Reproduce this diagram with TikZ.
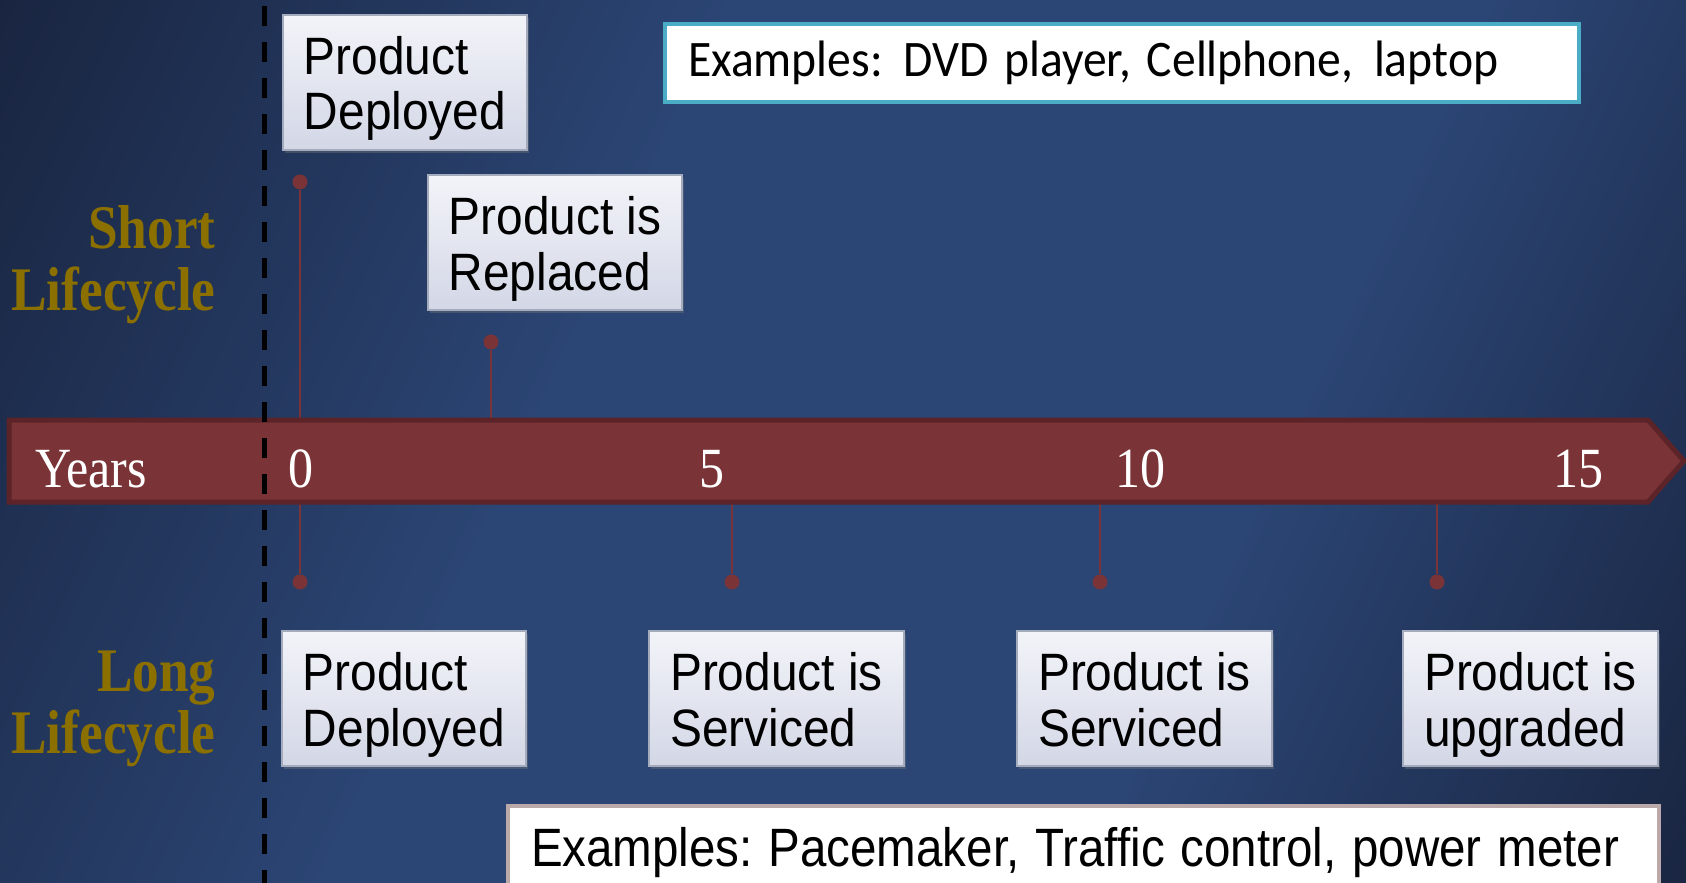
\documentclass[tikz,border=0pt]{standalone}
\usepackage{fontspec}
\usepackage{graphicx}
\setmainfont{Liberation Serif}
\newfontfamily\boxfont{Liberation Sans}
\newfontfamily\calfont{Carlito}
\newfontfamily\serfont[FakeStretch=0.88]{Liberation Serif}
\newfontfamily\lifefont[FakeStretch=0.86]{Liberation Serif}
\usetikzlibrary{positioning,shadows}

\definecolor{bgdark}{HTML}{17213A}
\definecolor{bgmid}{HTML}{2B4574}
\definecolor{bandred}{HTML}{7A3336}
\definecolor{bandedge}{HTML}{5C2428}
\definecolor{lifegold}{HTML}{8B7000}
\definecolor{boxtop}{HTML}{F3F4F9}
\definecolor{boxbot}{HTML}{D3D7E6}
\definecolor{boxedge}{HTML}{A4ABBC}
\definecolor{tealedge}{HTML}{4BACC6}
\definecolor{roseedge}{HTML}{BBA9AA}

% slide text is squeezed sideways
\newcommand\sq[2][0.91]{\scalebox{#1}[1]{#2}}
% two lines of a box, with fixed top and bottom
\newcommand\ev[2]{\rule{0pt}{25.5pt}\sq{#1}\\\sq{#2}\rule[-6pt]{0pt}{6pt}}

\pgfdeclarehorizontalshading{slidebg}{100bp}{color(0bp)=(bgdark); color(14bp)=(bgdark); color(40bp)=(bgmid); color(64bp)=(bgmid); color(86bp)=(bgdark); color(100bp)=(bgdark)}

\begin{document}
\frenchspacing
\begin{tikzpicture}[x=0.5pt, y=-0.5pt,
  event/.style={draw=boxedge, line width=1pt, top color=boxtop, bottom color=boxbot,
    anchor=north west, inner xsep=0pt, inner ysep=2pt, minimum width=#1, minimum height=67.5pt, align=left,
    font=\boxfont\fontsize{26.3}{28}\selectfont,
    drop shadow={shadow xshift=1pt, shadow yshift=-1.5pt, opacity=0.35}},
  pinhead/.style={circle, fill=bandred, inner sep=0pt, minimum size=7.5pt},
  pinline/.style={draw=bandred, line width=1pt},
  lifecycle/.style={anchor=east, align=right, inner sep=0pt, text=lifegold,
    font=\lifefont\bfseries\fontsize{31}{31}\selectfont},
  tick/.style={anchor=base, text=white, font=\serfont\fontsize{28.4}{30}\selectfont},
  example/.style={fill=white, anchor=north west, inner xsep=11.5pt, align=left, text width=#1}]

  \useasboundingbox (0,0) rectangle (1686,883);
  \shade[shading=slidebg, shading angle=-25] (0,0) rectangle (1686,883);

  % years band
  \coordinate (bandtop) at (0,420);
  \coordinate (bandbot) at (0,502);

  % short lifecycle pins
  \node[pinhead] (s0) at (300,182) {};
  \node[pinhead] (s1) at (491,342) {};
  \draw[pinline] (s0) -- (s0 |- bandtop);
  \draw[pinline] (s1) -- (s1 |- bandtop);

  % long lifecycle pins
  \node[pinhead] (l0) at (300,582) {};
  \node[pinhead] (l1) at (732,582) {};
  \node[pinhead] (l2) at (1100,582) {};
  \node[pinhead] (l3) at (1437,582) {};
  \draw[pinline] (l0) -- (l0 |- bandbot);
  \draw[pinline] (l1) -- (l1 |- bandbot);
  \draw[pinline] (l2) -- (l2 |- bandbot);
  \draw[pinline] (l3) -- (l3 |- bandbot);

  \draw[fill=bandred, draw=bandedge, line width=2.5pt, line join=miter]
    (9,420) -- (1648,420) -- (1684,461) -- (1648,502) -- (9,502) -- cycle;
  \node[tick] (yrs) at (91,487) {Years};
  \node[tick] (y0) at (301,487) {0};
  \node[tick] (y5) at (712,487) {5};
  \node[tick] (y10) at (1140,487) {10};
  \node[tick] (y15) at (1578,487) {15};

  \draw[black, line width=2.2pt, dash pattern=on 10pt off 8pt] (264.5,6) -- (264.5,883);

  \node[lifecycle] (short) at (216,265) {Short\\Lifecycle};
  \node[lifecycle] (long) at (216,709) {Long\\Lifecycle};

  \node[event=122pt] (sd) at (282,14) {\ev{Product}{Deployed}};
  \node[event=127pt] (sr) at (427,174) {\ev{Product is}{Replaced}};
  \node[event=122pt] (ld) at (281,630) {\ev{Product}{Deployed}};
  \node[event=127.5pt] (ls1) at (648,630) {\ev{Product is}{Serviced}};
  \node[event=127.5pt] (ls2) at (1016,630) {\ev{Product is}{Serviced}};
  \node[event=127.5pt] (lu) at (1402,630) {\ev{Product is}{upgraded}};

  \node[example=434pt, draw=tealedge, line width=2pt, minimum height=39pt,
    font=\calfont\fontsize{25.6}{28}\selectfont] (shortex) at (663,22)
    {\sq[0.93]{Examples:\hspace{11pt}DVD player, Cellphone,\hspace{11pt}laptop}};
  \node[example=552.5pt, draw=roseedge, line width=2pt, minimum height=47pt,
    font=\boxfont\fontsize{27}{30}\selectfont] (longex) at (506,804)
    {\sq[0.88]{Examples: Pacemaker, Traffic control, power meter}};
\end{tikzpicture}
\end{document}
